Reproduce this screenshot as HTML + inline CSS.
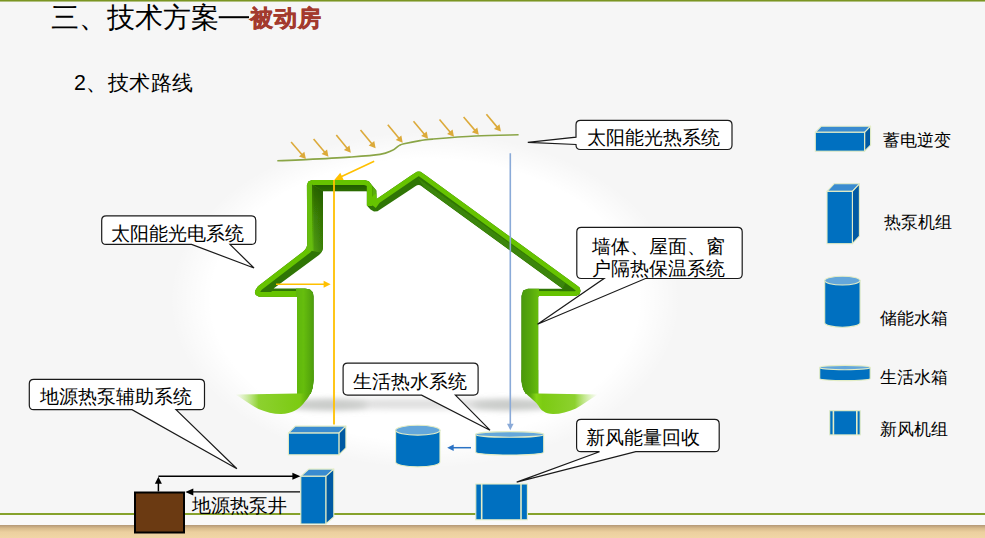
<!DOCTYPE html>
<html><head><meta charset="utf-8">
<style>
html,body{margin:0;padding:0;}
body{width:985px;height:538px;overflow:hidden;position:relative;background:#f6f6f6;font-family:"Liberation Sans",sans-serif;}
svg{position:absolute;left:0;top:0;}
text{font-family:"Liberation Sans",sans-serif;}
</style></head>
<body>
<svg width="985" height="538" viewBox="0 0 985 538">
<defs>
<radialGradient id="glow" cx="425" cy="300" r="255" gradientUnits="userSpaceOnUse" gradientTransform="translate(425 300) scale(1 0.66) translate(-425 -300)">
<stop offset="0" stop-color="#ffffff"/>
<stop offset="0.84" stop-color="#ffffff"/>
<stop offset="1" stop-color="#ffffff" stop-opacity="0"/>
</radialGradient>
<filter id="soft" x="-5%" y="-5%" width="110%" height="110%"><feGaussianBlur stdDeviation="0.6"/></filter>
<linearGradient id="wallL" x1="296" x2="315" gradientUnits="userSpaceOnUse"><stop offset="0" stop-color="#5fb60b"/><stop offset="0.4" stop-color="#66bd0c"/><stop offset="1" stop-color="#4a990a"/></linearGradient>
<linearGradient id="wallR" x1="520" x2="539" gradientUnits="userSpaceOnUse"><stop offset="0" stop-color="#48960a"/><stop offset="0.55" stop-color="#56a80b"/><stop offset="1" stop-color="#68be0d"/></linearGradient>
<linearGradient id="chTop" x1="0" y1="184" x2="0" y2="191.2" gradientUnits="userSpaceOnUse"><stop offset="0" stop-color="#1f5803"/><stop offset="1" stop-color="#2d6c05"/></linearGradient>
<linearGradient id="chL" x1="306" y1="0" x2="323" y2="0" gradientUnits="userSpaceOnUse"><stop offset="0" stop-color="#66bd08"/><stop offset="0.38" stop-color="#66bd08"/><stop offset="0.5" stop-color="#4f9c0a"/><stop offset="1" stop-color="#3a8006"/></linearGradient>
<linearGradient id="chLv" x1="0" y1="184" x2="0" y2="252" gradientUnits="userSpaceOnUse"><stop offset="0" stop-color="#1a4d02" stop-opacity="0.75"/><stop offset="0.5" stop-color="#1a4d02" stop-opacity="0.3"/><stop offset="1" stop-color="#1a4d02" stop-opacity="0"/></linearGradient>
<linearGradient id="floorL" x1="235" x2="314" gradientUnits="userSpaceOnUse"><stop offset="0" stop-color="#a6e050" stop-opacity="0"/><stop offset="0.3" stop-color="#80cc18" stop-opacity="0.9"/><stop offset="0.82" stop-color="#7ccb12"/><stop offset="0.9" stop-color="#62b20c"/><stop offset="1" stop-color="#4c9a0a"/></linearGradient>
<linearGradient id="floorR" x1="598" x2="521" gradientUnits="userSpaceOnUse"><stop offset="0" stop-color="#a6e050" stop-opacity="0"/><stop offset="0.3" stop-color="#80cc18" stop-opacity="0.9"/><stop offset="0.72" stop-color="#7ccb12"/><stop offset="0.8" stop-color="#86d616"/><stop offset="0.88" stop-color="#5aaa0c"/><stop offset="1" stop-color="#4a980a"/></linearGradient>
<linearGradient id="wood" x1="0" y1="525" x2="0" y2="538" gradientUnits="userSpaceOnUse"><stop offset="0" stop-color="#b39877"/><stop offset="0.25" stop-color="#d8bb8c"/><stop offset="0.55" stop-color="#ecd09f"/><stop offset="1" stop-color="#f1d6a6"/></linearGradient>
<filter id="blur" x="-20%" y="-200%" width="140%" height="500%"><feGaussianBlur stdDeviation="3"/></filter>
</defs>
<rect x="0" y="0" width="985" height="538" fill="url(#glow)"/>
<rect x="0" y="0" width="985" height="1.2" fill="#7b9522"/><rect x="0" y="1.2" width="985" height="0.8" fill="#a8ba70"/>
<rect x="0" y="515" width="985" height="11" fill="#f9f9f9"/>
<rect x="0" y="525" width="985" height="13" fill="url(#wood)"/>
<rect x="0" y="513" width="985" height="2" fill="#86a22c"/>
<ellipse cx="418" cy="404" rx="150" ry="5" fill="#dedede" filter="url(#blur)"/>
<ellipse cx="328" cy="405" rx="40" ry="5" fill="#c8cac8" filter="url(#blur)"/>
<ellipse cx="512" cy="405" rx="40" ry="5" fill="#c8cac8" filter="url(#blur)"/>
<clipPath id="rib"><path d="M297.00,394.00 L297.00,297.00 L259.00,296.80 L255.80,295.00 L255.20,293.50 Q254.60,292.00 255.30,290.60 L256.00,289.20 L258.00,286.31 L303.24,251.48 Q307.20,248.43 307.18,243.43 L306.90,185.00 L308.30,181.40 L312.00,180.00 L364.50,180.00 L368.80,181.20 L376.40,190.50 L376.60,198.97 L411.00,175.58 L414.90,172.94 Q418.80,170.30 422.40,172.90 L426.00,175.51 L576.00,284.71 L579.60,287.50 L580.60,291.00 L579.50,294.20 L576.00,296.00 L539.00,296.00 L538.20,297.00 L538.20,394.00 L526.00,394.00 L523.30,389.50 L521.50,381.00 L521.50,296.00 L523.20,290.60 L528.00,288.80 L562.53,288.80 L424.00,187.95 L421.32,186.01 Q418.65,184.06 415.32,186.32 L412.00,188.58 L377.50,211.20 L374.00,211.40 L370.50,209.50 L366.80,205.50 L366.80,191.20 L323.00,191.20 L323.00,246.93 Q323.00,251.93 318.98,254.90 L273.58,288.50 L305.00,288.50 L310.00,289.40 L312.80,292.20 L313.60,296.50 L313.60,380.00 L312.60,388.00 L310.50,394.00 Z"/></clipPath>
<path d="M297.00,394.00 L297.00,297.00 L259.00,296.80 L255.80,295.00 L255.20,293.50 Q254.60,292.00 255.30,290.60 L256.00,289.20 L258.00,286.31 L303.24,251.48 Q307.20,248.43 307.18,243.43 L306.90,185.00 L308.30,181.40 L312.00,180.00 L364.50,180.00 L368.80,181.20 L376.40,190.50 L376.60,198.97 L411.00,175.58 L414.90,172.94 Q418.80,170.30 422.40,172.90 L426.00,175.51 L576.00,284.71 L579.60,287.50 L580.60,291.00 L579.50,294.20 L576.00,296.00 L539.00,296.00 L538.20,297.00 L538.20,394.00 L526.00,394.00 L523.30,389.50 L521.50,381.00 L521.50,296.00 L523.20,290.60 L528.00,288.80 L562.53,288.80 L424.00,187.95 L421.32,186.01 Q418.65,184.06 415.32,186.32 L412.00,188.58 L377.50,211.20 L374.00,211.40 L370.50,209.50 L366.80,205.50 L366.80,191.20 L323.00,191.20 L323.00,246.93 Q323.00,251.93 318.98,254.90 L273.58,288.50 L305.00,288.50 L310.00,289.40 L312.80,292.20 L313.60,296.50 L313.60,380.00 L312.60,388.00 L310.50,394.00 Z" fill="#2f7505"/>
<g clip-path="url(#rib)"><g filter="url(#soft)">
<polygon points="312.00,184.00 367.00,184.00 367.00,191.20 323.00,191.20" fill="url(#chTop)"/>
<polygon points="418.00,178.00 565.53,283.08 562.53,288.80 424.00,187.95" fill="#3a8507"/>
<polyline points="297.00,300.00 297.00,297.00 259.00,296.80 255.80,295.00 254.60,292.00 256.00,289.20 258.00,286.31 307.20,248.43 306.90,185.00 308.30,181.40 312.00,180.00 364.50,180.00 368.80,181.20 369.60,184.00" fill="none" stroke="#66c306" stroke-width="10" stroke-linejoin="round"/>
<polygon points="306.00,184.60 312.00,184.60 323.00,191.20 323.00,252.93 306.00,249.85" fill="url(#chL)"/>
<polygon points="312.00,184.60 323.00,191.20 323.00,252.93 312.00,260.07" fill="url(#chLv)"/>
<rect x="271.5810810810811" y="291" width="42.418918918918905" height="6" fill="#66c306"/>
<polygon points="364.00,181.00 368.80,181.20 372.40,186.00 372.40,206.00 366.80,206.00 366.80,186.00" fill="#66c306"/>
<polygon points="372.40,186.00 376.40,190.50 376.60,199.00 372.40,203.00" fill="#5aad0a"/>
<polyline points="372.00,205.00 376.60,198.97 411.00,175.58 418.80,170.30 426.00,175.51 576.00,284.71 579.60,287.50 580.60,291.00 579.50,294.20 576.00,296.00 539.00,296.00 538.20,300.00" fill="none" stroke="#66c306" stroke-width="9.5" stroke-linejoin="round"/>
<rect x="520" y="291.2" width="39.52747252747258" height="6" fill="#66c306"/>
<rect x="296" y="288" width="19" height="109" fill="url(#wallL)"/>
<rect x="520" y="288" width="19" height="109" fill="url(#wallR)"/>
</g></g>
<path d="M297,370 H313.6 V380 C313.4,386 312,391 310.5,394 H297 Z" fill="url(#wallL)"/>
<path d="M297,393.6 L235,394.6 C242,398 250,405 258.5,409 C266,412 274,414.2 281,414.1 C292,413.6 299,409 303.5,403.5 C306.5,400 308.8,397 310.5,393.6 Z" fill="url(#floorL)"/>
<path d="M521.5,370 H538.2 V394 H526 C523.5,390 521.5,386 521.5,381 Z" fill="url(#wallR)"/>
<path d="M538.2,393.6 L598,394.6 C590,399 584,404 576,408.5 C568,412 560,414.2 553,414.1 C545,413.6 540.5,410 538.5,405.7 C534,400 529,397 526,393.6 Z" fill="url(#floorR)"/>
<path d="M277.3,160.8 C282.02,160.60 293.62,160.22 305.6,159.6 C317.58,158.98 336.80,157.97 349.2,157.1 C361.60,156.23 372.87,155.48 380,154.4 C387.13,153.32 389.25,151.75 392,150.6 C394.75,149.45 395.25,148.37 396.5,147.5 C397.75,146.63 398.25,146.02 399.5,145.4 C400.75,144.78 400.58,144.60 404,143.8 C407.42,143.00 415.23,141.38 420,140.6 C424.77,139.82 423.38,139.87 432.6,139.1 C441.82,138.33 460.97,136.72 475.3,136 C489.63,135.28 511.38,135.00 518.6,134.8" fill="none" stroke="#8aa546" stroke-width="1.6"/>
<line x1="291.1" y1="142" x2="302.30" y2="154.94" stroke="#dcaa3a" stroke-width="1.6"/><polygon points="305.9,159.1 298.92,156.54 304.37,151.83" fill="#dcaa3a"/>
<line x1="313.6" y1="139" x2="324.96" y2="152.49" stroke="#dcaa3a" stroke-width="1.6"/><polygon points="328.5,156.7 321.56,154.05 327.07,149.41" fill="#dcaa3a"/>
<line x1="336.3" y1="135.1" x2="347.31" y2="148.55" stroke="#dcaa3a" stroke-width="1.6"/><polygon points="350.8,152.8 343.90,150.05 349.47,145.49" fill="#dcaa3a"/>
<line x1="360.5" y1="130.1" x2="372.09" y2="144.07" stroke="#dcaa3a" stroke-width="1.6"/><polygon points="375.6,148.3 368.68,145.60 374.22,141.00" fill="#dcaa3a"/>
<line x1="387.8" y1="124.7" x2="399.19" y2="138.46" stroke="#dcaa3a" stroke-width="1.6"/><polygon points="402.7,142.7 395.78,139.99 401.33,135.40" fill="#dcaa3a"/>
<line x1="413.5" y1="121.3" x2="424.56" y2="134.49" stroke="#dcaa3a" stroke-width="1.6"/><polygon points="428.1,138.7 421.16,136.03 426.68,131.41" fill="#dcaa3a"/>
<line x1="439.5" y1="119.5" x2="450.45" y2="132.49" stroke="#dcaa3a" stroke-width="1.6"/><polygon points="454,136.7 447.06,134.05 452.56,129.41" fill="#dcaa3a"/>
<line x1="463.6" y1="117.1" x2="475.22" y2="130.63" stroke="#dcaa3a" stroke-width="1.6"/><polygon points="478.8,134.8 471.83,132.21 477.30,127.52" fill="#dcaa3a"/>
<line x1="486.4" y1="114.2" x2="497.38" y2="127.37" stroke="#dcaa3a" stroke-width="1.6"/><polygon points="500.9,131.6 493.97,128.91 499.50,124.30" fill="#dcaa3a"/>
<line x1="374.2" y1="161.2" x2="341.08" y2="176.80" stroke="#ffc000" stroke-width="1.6"/><polygon points="334.3,180 340.28,172.76 343.69,180.00" fill="#ffc000"/>
<line x1="334" y1="180" x2="334" y2="424.5" stroke="#ffc000" stroke-width="1.8"/>
<line x1="276" y1="284.2" x2="324.60" y2="284.20" stroke="#ffc000" stroke-width="1.5"/><polygon points="330.6,284.2 323.60,287.70 323.60,280.70" fill="#ffc000"/>
<line x1="510.3" y1="153.3" x2="510.30" y2="424.70" stroke="#8aaad8" stroke-width="1.6"/><polygon points="510.3,430.2 507.00,423.70 513.60,423.70" fill="#8aaad8"/>
<line x1="471" y1="447.7" x2="452.70" y2="447.70" stroke="#2a72c4" stroke-width="1.5"/><polygon points="447.2,447.7 453.70,444.40 453.70,451.00" fill="#2a72c4"/>
<path d="M580.5,120.3 H727.5 Q732,120.3 732,124.8 V145.0 Q732,149.5 727.5,149.5 H580.5 Q576,149.5 576,145.0 V144.5 L527.8,142.4 L576,137.2 V124.8 Q576,120.3 580.5,120.3 Z" fill="#fff" stroke="#1a1a1a" stroke-width="1.2"/>
<text x="587" y="144.3" font-size="18.67" fill="#000" font-weight="normal">太阳能光热系统</text>
<path d="M106.2,215.9 H251.3 Q255.8,215.9 255.8,220.4 V239.9 Q255.8,244.4 251.3,244.4 H230 L254,268 L191.6,244.4 H106.2 Q101.7,244.4 101.7,239.9 V220.4 Q101.7,215.9 106.2,215.9 Z" fill="#fff" stroke="#1a1a1a" stroke-width="1.2"/>
<text x="110.5" y="239.5" font-size="18.67" fill="#000" font-weight="normal">太阳能光电系统</text>
<path d="M581.3,227.3 H737.7 Q742.2,227.3 742.2,231.8 V274.0 Q742.2,278.5 737.7,278.5 H645.5 L537.5,324.3 L604,278.5 H581.3 Q576.8,278.5 576.8,274.0 V231.8 Q576.8,227.3 581.3,227.3 Z" fill="#fff" stroke="#1a1a1a" stroke-width="1.2"/>
<text x="592" y="253" font-size="18.67" fill="#000" font-weight="normal">墙体、屋面、窗</text>
<text x="592" y="275" font-size="18.67" fill="#000" font-weight="normal">户隔热保温系统</text>
<path d="M347.6,363.1 H473.6 Q478.1,363.1 478.1,367.6 V390.6 Q478.1,395.1 473.6,395.1 H455.4 L490,430.2 L421.6,395.1 H347.6 Q343.1,395.1 343.1,390.6 V367.6 Q343.1,363.1 347.6,363.1 Z" fill="#fff" stroke="#1a1a1a" stroke-width="1.2"/>
<text x="353" y="388" font-size="18.67" fill="#000" font-weight="normal">生活热水系统</text>
<path d="M33.8,379.3 H200.0 Q204.5,379.3 204.5,383.8 V405.2 Q204.5,409.7 200.0,409.7 H176 L236.9,468.7 L132,409.7 H33.8 Q29.3,409.7 29.3,405.2 V383.8 Q29.3,379.3 33.8,379.3 Z" fill="#fff" stroke="#1a1a1a" stroke-width="1.2"/>
<text x="40" y="402.5" font-size="18.67" fill="#000" font-weight="normal">地源热泵辅助系统</text>
<path d="M581.1,419.4 H714.7 Q719.2,419.4 719.2,423.9 V447.2 Q719.2,451.7 714.7,451.7 H635.8 L516.7,482.1 L599.5,451.7 H581.1 Q576.6,451.7 576.6,447.2 V423.9 Q576.6,419.4 581.1,419.4 Z" fill="#fff" stroke="#1a1a1a" stroke-width="1.2"/>
<text x="586" y="443.5" font-size="18.67" fill="#000" font-weight="normal">新风能量回收</text>
<polygon points="288.4,433.1 295.4,426.1 345.9,426.1 338.9,433.1" fill="#3a8bd0" stroke="#e4edc6" stroke-width="1.1" stroke-linejoin="round"/>
<polygon points="338.9,433.1 345.9,426.1 345.9,447.8 338.9,454.8" fill="#005aa3" stroke="#e4edc6" stroke-width="1.1" stroke-linejoin="round"/>
<rect x="288.4" y="433.1" width="50.5" height="21.7" fill="#0070c0" stroke="#e4edc6" stroke-width="1.1"/>
<path d="M395.6,430.2 V462.0 A22.19999999999999,4.9 0 0 0 440,462.0 V430.2 Z" fill="#0070c0" stroke="#e4edc6" stroke-width="1.1"/>
<ellipse cx="417.8" cy="430.2" rx="22.19999999999999" ry="4.9" fill="#64a7db" stroke="#e4edc6" stroke-width="1.1"/>
<path d="M475.7,434.40000000000003 V452.2 A34.00000000000003,2.8 0 0 0 543.7,452.2 V434.40000000000003 Z" fill="#0070c0" stroke="#e4edc6" stroke-width="1.1"/>
<ellipse cx="509.70000000000005" cy="434.40000000000003" rx="34.00000000000003" ry="2.8" fill="#64a7db" stroke="#e4edc6" stroke-width="1.1"/>
<polygon points="300.8,476.3 308.8,469.1 333.8,469.1 325.8,476.3" fill="#3a8bd0" stroke="#e4edc6" stroke-width="1.1" stroke-linejoin="round"/>
<polygon points="325.8,476.3 333.8,469.1 333.8,516.8 325.8,524.0" fill="#005aa3" stroke="#e4edc6" stroke-width="1.1" stroke-linejoin="round"/>
<rect x="300.8" y="476.3" width="25" height="47.7" fill="#0070c0" stroke="#e4edc6" stroke-width="1.1"/>
<rect x="475.8" y="484" width="51.599999999999966" height="35.799999999999955" fill="#0070c0" stroke="#e4edc6" stroke-width="1.1"/>
<line x1="481.7" y1="484" x2="481.7" y2="519.8" stroke="#e4edc6" stroke-width="1.6"/>
<line x1="521" y1="484" x2="521" y2="519.8" stroke="#e4edc6" stroke-width="1.6"/>
<rect x="135" y="492.5" width="49" height="40" fill="#6b3a12" stroke="#000" stroke-width="2"/>
<line x1="158.4" y1="491.5" x2="158.40" y2="482.80" stroke="#000" stroke-width="1.5"/><polygon points="158.4,476.8 161.90,483.80 154.90,483.80" fill="#000"/>
<line x1="158.4" y1="476.3" x2="293.40" y2="476.30" stroke="#000" stroke-width="1.5"/><polygon points="300.4,476.3 292.40,479.80 292.40,472.80" fill="#000"/>
<line x1="300" y1="491.9" x2="192.30" y2="491.90" stroke="#000" stroke-width="1.2"/><polygon points="185.3,491.9 193.30,488.40 193.30,495.40" fill="#000"/>
<text x="191.5" y="512" font-size="18.67" fill="#000" font-weight="normal">地源热泵井</text>
<polygon points="815.3,132.3 821.3,126.20000000000002 870.5999999999999,126.20000000000002 864.5999999999999,132.3" fill="#3a8bd0" stroke="#e4edc6" stroke-width="1.1" stroke-linejoin="round"/>
<polygon points="864.5999999999999,132.3 870.5999999999999,126.20000000000002 870.5999999999999,145.10000000000002 864.5999999999999,151.20000000000002" fill="#005aa3" stroke="#e4edc6" stroke-width="1.1" stroke-linejoin="round"/>
<rect x="815.3" y="132.3" width="49.3" height="18.9" fill="#0070c0" stroke="#e4edc6" stroke-width="1.1"/>
<text x="883" y="146.3" font-size="17" fill="#000" font-weight="normal">蓄电逆变</text>
<polygon points="827,191.4 834,183.8 859.4,183.8 852.4,191.4" fill="#3a8bd0" stroke="#e4edc6" stroke-width="1.1" stroke-linejoin="round"/>
<polygon points="852.4,191.4 859.4,183.8 859.4,236.1 852.4,243.7" fill="#005aa3" stroke="#e4edc6" stroke-width="1.1" stroke-linejoin="round"/>
<rect x="827" y="191.4" width="25.4" height="52.3" fill="#0070c0" stroke="#e4edc6" stroke-width="1.1"/>
<text x="884" y="228.3" font-size="17" fill="#000" font-weight="normal">热泵机组</text>
<path d="M824.7,280.59999999999997 V322.8 A17.69999999999999,4.4 0 0 0 860.1,322.8 V280.59999999999997 Z" fill="#0070c0" stroke="#e4edc6" stroke-width="1.1"/>
<ellipse cx="842.4000000000001" cy="280.59999999999997" rx="17.69999999999999" ry="4.4" fill="#64a7db" stroke="#e4edc6" stroke-width="1.1"/>
<text x="880" y="324.4" font-size="17" fill="#000" font-weight="normal">储能水箱</text>
<path d="M819.7,367.59999999999997 V378.40000000000003 A25.25,2.2 0 0 0 870.2,378.40000000000003 V367.59999999999997 Z" fill="#0070c0" stroke="#e4edc6" stroke-width="1.1"/>
<ellipse cx="844.95" cy="367.59999999999997" rx="25.25" ry="2.2" fill="#64a7db" stroke="#e4edc6" stroke-width="1.1"/>
<text x="880" y="383.4" font-size="17" fill="#000" font-weight="normal">生活水箱</text>
<rect x="829.7" y="410.7" width="30.5" height="24.19999999999999" fill="#0070c0" stroke="#e4edc6" stroke-width="1.1"/>
<line x1="833.4" y1="410.7" x2="833.4" y2="434.9" stroke="#e4edc6" stroke-width="1.6"/>
<line x1="856.8" y1="410.7" x2="856.8" y2="434.9" stroke="#e4edc6" stroke-width="1.6"/>
<text x="880" y="435.3" font-size="17" fill="#000" font-weight="normal">新风机组</text>
<text x="51" y="26.5" font-size="28" fill="#000">三、技术方案</text>
<rect x="218.7" y="16.2" width="30.3" height="2" fill="#000"/>
<text x="250" y="25.8" font-size="22.5" font-weight="bold" fill="#a33a2e" stroke="#a33a2e" stroke-width="0.6" letter-spacing="1">被动房</text>
<text x="74" y="89.9" font-size="21.33" letter-spacing="0.45">2、技术路线</text>
</svg>
</body></html>
